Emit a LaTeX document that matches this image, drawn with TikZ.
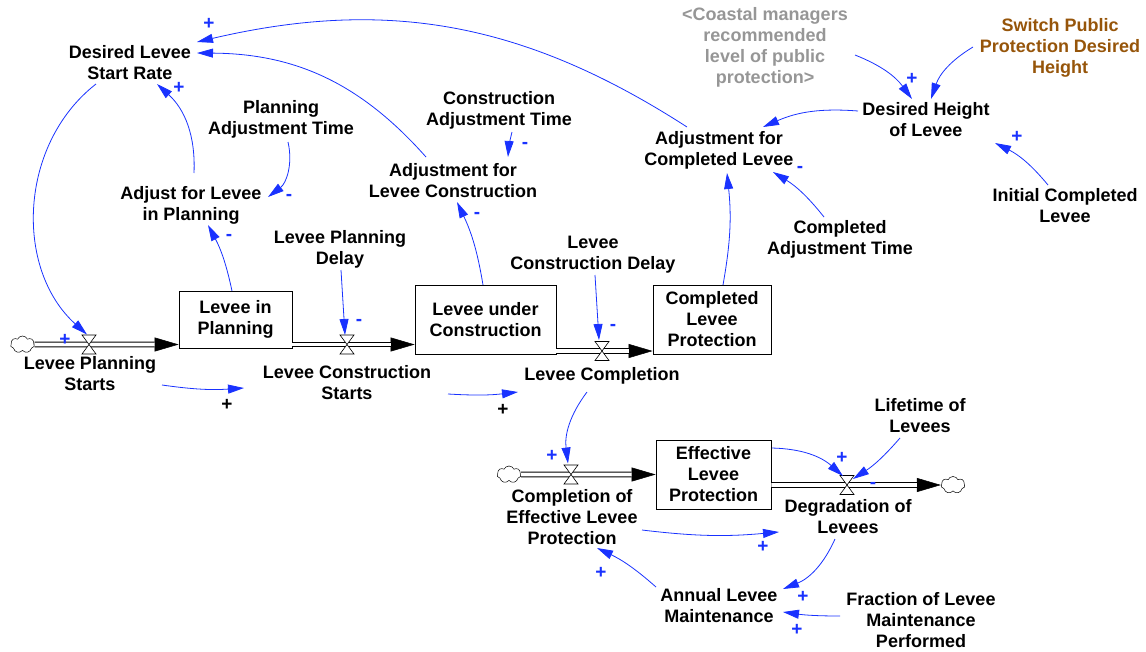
\documentclass[tikz,border=0pt]{standalone}
\usepackage{fontspec}
\setmainfont{Liberation Sans}
\usetikzlibrary{arrows.meta,shapes.symbols}
\definecolor{lb}{RGB}{25,50,255}
\definecolor{gr}{RGB}{150,150,150}
\definecolor{br}{RGB}{150,85,10}
\newcommand\flowpipe[2]{%
  \draw[line width=0.5pt,-{Triangle[length=24pt,width=14pt]}] #1 -- #2;
  \draw[line width=1pt, double=white, double distance=3.6pt, shorten >=24pt] #1 -- #2;}
\newcommand\valvedraw[1]{%
  \draw[fill=white, line width=0.6pt] ([shift={(-7,-9.5)}]#1) -- ([shift={(7,-9.5)}]#1) -- ([shift={(-7,9.5)}]#1) -- ([shift={(7,9.5)}]#1) -- cycle;}
\begin{document}
\begin{tikzpicture}[x=1pt,y=-1pt,
  every node/.style={font=\fontsize{18}{21}\selectfont\bfseries, align=center, inner sep=0pt},
  stock/.style={draw, line width=0.8pt},
  lk/.style={lb, line width=0.8pt, -{Triangle[length=16pt,width=9pt]}},
  pol/.style={font=\fontsize{19}{19}\selectfont\bfseries, text=lb},
  polk/.style={font=\fontsize{19}{19}\selectfont\bfseries, text=black},
  cloudn/.style={cloud, cloud puffs=7, cloud puff arc=130, aspect=1.5, draw, line width=0.5pt, minimum width=24pt, minimum height=17pt, inner sep=0pt}]
\useasboundingbox (0,0) rectangle (1146,651);

% auxiliary variables
\node (dlsr) at (130,63) {Desired Levee\\Start Rate};
\node (pat) at (281,119) {Planning\\Adjustment Time};
\node (aflp) at (191,205) {Adjust for Levee\\in Planning};
\node (cat) at (499,110) {Construction\\Adjustment Time};
\node (aflc) at (453,181) {Adjustment for\\Levee Construction};
\node[text=gr] (coast) at (765,47.5) {<Coastal managers\\recommended\\level of public\\protection>};
\node[text=br] (switch) at (1060,48) {Switch Public\\Protection Desired\\Height};
\node (dhl) at (926,120) {Desired Height\\of Levee};
\node (afcl) at (719,150) {Adjustment for\\Completed Levee};
\node (icl) at (1065,206) {Initial Completed\\Levee};
\node (cadt) at (840,239) {Completed\\Adjustment Time};
\node (lpd) at (340,249) {Levee Planning\\Delay};
\node (lcd) at (593,255) {Levee\\Construction Delay};
\node (lps) at (90,374) {Levee Planning\\Starts};
\node (lcs) at (347,383) {Levee Construction\\Starts};
\node (lc) at (602,376) {Levee Completion};
\node (celp) at (572,517) {Completion of\\Effective Levee\\Protection};
\node (dol) at (848,517) {Degradation of\\Levees};
\node (lol) at (920,416) {Lifetime of\\Levees};
\node (alm) at (719,606) {Annual Levee\\Maintenance};
\node (flmp) at (921,620) {Fraction of Levee\\Maintenance\\Performed};

% stocks
\node[stock, minimum width=113pt, minimum height=57pt] (lip) at (235.5,319.5) {Levee in\\Planning};
\node[stock, minimum width=141pt, minimum height=69pt] (luc) at (485.5,319.5) {Levee under\\Construction};
\node[stock, minimum width=118pt, minimum height=69pt] (clp) at (712,319.5) {Completed\\Levee\\Protection};
\node[stock, minimum width=115pt, minimum height=69pt] (elp) at (713.5,474.5) {Effective\\Levee\\Protection};

% clouds
\node[cloudn] (c1) at (22.5,344.5) {};
\node[cloudn] (c4) at (509,474.5) {};
\node[cloudn] (c5) at (953,485) {};

% valves
\coordinate (v1) at (89,344.5);
\coordinate (v2) at (347,344.5);
\coordinate (v3) at (602,351);
\coordinate (v4) at (571,474.5);
\coordinate (v5) at (847,485);

% pipes
\flowpipe{(c1.east)}{([shift={(0,25)}]lip.west)}
\flowpipe{([shift={(0,25)}]lip.east)}{([shift={(0,25)}]luc.west)}
\flowpipe{([shift={(0,31.5)}]luc.east)}{([shift={(0,31.5)}]clp.west)}
\flowpipe{(c4.east)}{(elp.west)}
\flowpipe{([shift={(0,10.5)}]elp.east)}{(c5.west)}

\valvedraw{v1}
\valvedraw{v2}
\valvedraw{v3}
\valvedraw{v4}
\valvedraw{v5}

% links
\draw[lk] ([shift={(-32,-23)}]afcl.center) to[bend right=23] ([shift={(67,-21)}]dlsr.center);
\draw[lk] ([shift={(-27,-24)}]aflc.center) to[bend right=24] ([shift={(67,-10)}]dlsr.center);
\draw[lk] ([shift={(3,-32)}]aflp.center) to[bend right=25] ([shift={(27,21)}]dlsr.center);
\draw[lk] ([shift={(-34,21)}]dlsr.center) to[bend right=50] ([shift={(-2,-10)}]v1);
\draw[lk] ([shift={(7,23)}]pat.center) to[bend left=33] ([shift={(77,-8)}]aflp.center);
\draw[lk] ([shift={(-3.5,-28.5)}]lip.center) to[bend right=8] ([shift={(17,20)}]aflp.center);
\draw[lk] ([shift={(-2.5,-34.5)}]luc.center) to[bend right=8] ([shift={(4,21)}]aflc.center);
\draw[lk] ([shift={(13,22)}]cat.center) to[bend right=5] ([shift={(55,-24)}]aflc.center);
\draw[lk] ([shift={(1,21)}]lpd.center) -- ([shift={(-2,-9.5)}]v2);
\draw[lk] ([shift={(2,20)}]lcd.center) -- ([shift={(-3,-11)}]v3);
\draw[lk] ([shift={(11,-34.5)}]clp.center) to[bend right=8] ([shift={(8,23)}]afcl.center);
\draw[lk] ([shift={(-16,-22)}]cadt.center) to[bend right=10] ([shift={(54,22)}]afcl.center);
\draw[lk] ([shift={(-68,-9)}]dhl.center) to[bend right=14] ([shift={(44,-23)}]afcl.center);
\draw[lk] ([shift={(90,7.5)}]coast.center) to[bend left=16] ([shift={(-14,-21)}]dhl.center);
\draw[lk] ([shift={(-87,-1)}]switch.center) to[bend right=20] ([shift={(5,-21)}]dhl.center);
\draw[lk] ([shift={(-17,-21)}]icl.center) to[bend right=12] ([shift={(69,23)}]dhl.center);
\draw[lk] ([shift={(72,11)}]lps.center) to[bend right=6] ([shift={(-103,5)}]lcs.center);
\draw[lk] ([shift={(101,11)}]lcs.center) to[bend right=5] ([shift={(-84,16)}]lc.center);
\draw[lk] ([shift={(-15,16)}]lc.center) to[bend right=22] ([shift={(-3,-11)}]v4);
\draw[lk] ([shift={(58.5,-26.5)}]elp.center) to[bend left=20] ([shift={(-4,-9)}]v5);
\draw[lk] ([shift={(-20,22)}]lol.center) to[bend left=8] ([shift={(6,-6)}]v5);
\draw[lk] ([shift={(70,13)}]celp.center) to[bend right=6] ([shift={(-69,15)}]dol.center);
\draw[lk] ([shift={(-13,22)}]dol.center) to[bend left=22] ([shift={(64,-17)}]alm.center);
\draw[lk] ([shift={(-63,-19)}]alm.center) to[bend right=8] ([shift={(25,31)}]celp.center);
\draw[lk] ([shift={(-81,-4)}]flmp.center) to[bend left=4] ([shift={(64,6)}]alm.center);

% polarities
\node[pol] (p1) at (209,24) {+};
\node[pol] (p3) at (179,88) {+};
\node[pol] (p4) at (65,340) {+};
\node[pol] (p5) at (289,197) {-};
\node[pol] (p6) at (229,237) {-};
\node[pol] (p7) at (477,215) {-};
\node[pol] (p8) at (525,145) {-};
\node[pol] (p9) at (359,322) {-};
\node[pol] (p10) at (613,327) {-};
\node[pol] (p12) at (800,169) {-};
\node[pol] (p14) at (912,79) {+};
\node[pol] (p16) at (1017,137) {+};
\node[polk] (p17) at (227,405) {+};
\node[polk] (p18) at (503,410) {+};
\node[pol] (p19) at (552,456) {+};
\node[pol] (p20) at (842,458) {+};
\node[pol] (p21) at (873,485) {-};
\node[pol] (p23) at (763,547) {+};
\node[pol] (p24) at (803,597) {+};
\node[pol] (p25) at (601,573) {+};
\node[pol] (p26) at (797,630) {+};
\end{tikzpicture}
\end{document}
